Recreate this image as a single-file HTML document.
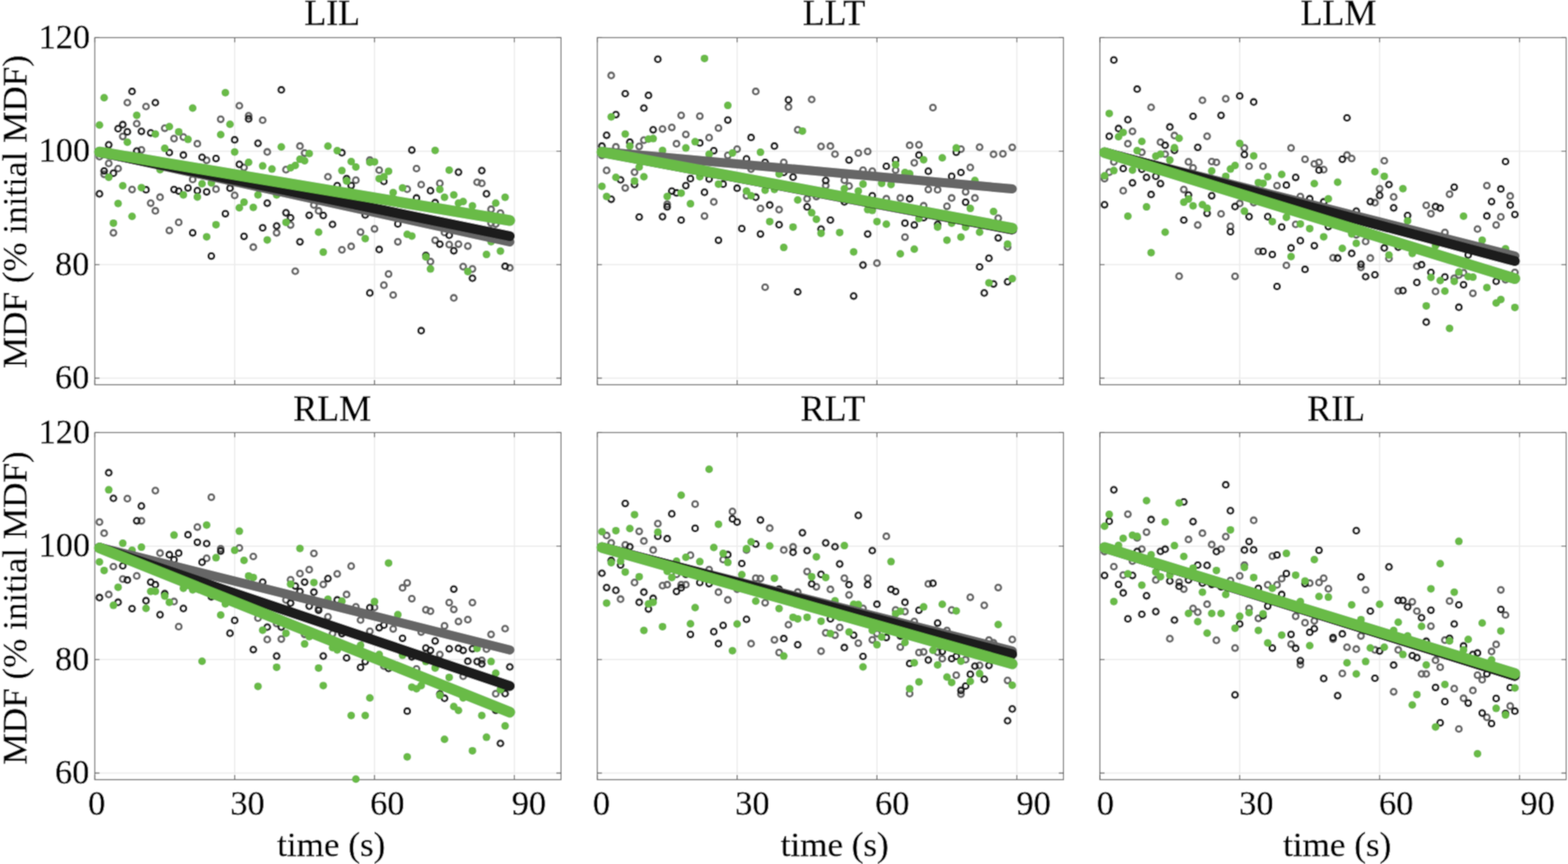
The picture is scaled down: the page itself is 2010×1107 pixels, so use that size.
<!DOCTYPE html><html><head><meta charset="utf-8"><style>html,body{margin:0;padding:0;background:#fff;}svg{display:block;}text{font-family:"Liberation Serif","Times New Roman",serif;fill:#000;stroke:#000;stroke-width:0.5px;}</style></head><body>
<div><svg width="2010" height="1107" viewBox="0 0 2010 1107">
<filter id="bl" x="0" y="0" width="100%" height="100%"><feConvolveMatrix order="3" kernelMatrix="1 3 1 3 9 3 1 3 1" divisor="25" edgeMode="duplicate"/></filter><g filter="url(#bl)"><rect width="2010" height="1107" fill="#fff"/>
<path d="M300.8 48.3V492.90000000000003M480.1 48.3V492.90000000000003M659.4 48.3V492.90000000000003M121.5 484.5H719.2M121.5 339.1H719.2M121.5 193.7H719.2" stroke="#ebebeb" stroke-width="1.5" fill="none"/>
<rect x="121.5" y="48.3" width="597.7" height="444.6" fill="none" stroke="#707070" stroke-width="1.4"/>
<path d="M121.5 492.90000000000003v-6M121.5 48.3v6M300.8 492.90000000000003v-6M300.8 48.3v6M480.1 492.90000000000003v-6M480.1 48.3v6M659.4 492.90000000000003v-6M659.4 48.3v6M121.5 484.5h6M719.2 484.5h-6M121.5 339.1h6M719.2 339.1h-6M121.5 193.7h6M719.2 193.7h-6M121.5 48.3h6M719.2 48.3h-6" stroke="#666" stroke-width="1.3" fill="none"/>
<g><g fill="none" stroke="#666666" stroke-width="2.8"><circle cx="127.5" cy="200.7" r="3.7"/><circle cx="133.5" cy="223.3" r="3.7"/><circle cx="139.4" cy="209.4" r="3.7"/><circle cx="151.4" cy="216.0" r="3.7"/><circle cx="157.4" cy="174.8" r="3.7"/><circle cx="163.3" cy="131.5" r="3.7"/><circle cx="169.3" cy="242.8" r="3.7"/><circle cx="175.3" cy="158.5" r="3.7"/><circle cx="181.3" cy="192.1" r="3.7"/><circle cx="187.2" cy="136.5" r="3.7"/><circle cx="193.2" cy="260.3" r="3.7"/><circle cx="199.2" cy="270.2" r="3.7"/><circle cx="205.2" cy="252.7" r="3.7"/><circle cx="211.2" cy="164.3" r="3.7"/><circle cx="223.1" cy="177.6" r="3.7"/><circle cx="235.1" cy="175.6" r="3.7"/><circle cx="247.0" cy="229.9" r="3.7"/><circle cx="253.0" cy="184.2" r="3.7"/><circle cx="264.9" cy="205.4" r="3.7"/><circle cx="276.9" cy="242.4" r="3.7"/><circle cx="282.9" cy="152.8" r="3.7"/><circle cx="300.8" cy="250.4" r="3.7"/><circle cx="306.8" cy="135.5" r="3.7"/><circle cx="312.8" cy="214.6" r="3.7"/><circle cx="318.7" cy="148.4" r="3.7"/><circle cx="336.7" cy="154.0" r="3.7"/><circle cx="342.6" cy="194.7" r="3.7"/><circle cx="366.6" cy="217.4" r="3.7"/><circle cx="384.5" cy="187.2" r="3.7"/><circle cx="390.5" cy="196.1" r="3.7"/><circle cx="402.4" cy="262.7" r="3.7"/><circle cx="408.4" cy="270.2" r="3.7"/><circle cx="420.4" cy="226.5" r="3.7"/><circle cx="145.4" cy="298.3" r="3.7"/><circle cx="217.1" cy="295.3" r="3.7"/><circle cx="229.1" cy="284.9" r="3.7"/><circle cx="324.7" cy="316.7" r="3.7"/><circle cx="354.6" cy="298.3" r="3.7"/><circle cx="372.5" cy="288.3" r="3.7"/><circle cx="378.5" cy="347.5" r="3.7"/><circle cx="456.2" cy="230.9" r="3.7"/><circle cx="474.1" cy="205.1" r="3.7"/><circle cx="486.1" cy="218.0" r="3.7"/><circle cx="522.0" cy="242.4" r="3.7"/><circle cx="533.9" cy="216.0" r="3.7"/><circle cx="539.9" cy="236.5" r="3.7"/><circle cx="563.8" cy="234.9" r="3.7"/><circle cx="611.6" cy="233.5" r="3.7"/><circle cx="617.6" cy="234.9" r="3.7"/><circle cx="629.5" cy="268.2" r="3.7"/><circle cx="641.5" cy="273.0" r="3.7"/><circle cx="438.3" cy="320.1" r="3.7"/><circle cx="450.2" cy="315.7" r="3.7"/><circle cx="462.2" cy="297.3" r="3.7"/><circle cx="480.1" cy="293.3" r="3.7"/><circle cx="492.1" cy="365.4" r="3.7"/><circle cx="498.1" cy="351.1" r="3.7"/><circle cx="504.0" cy="378.0" r="3.7"/><circle cx="510.0" cy="309.8" r="3.7"/><circle cx="551.8" cy="335.2" r="3.7"/><circle cx="557.8" cy="307.8" r="3.7"/><circle cx="569.8" cy="297.9" r="3.7"/><circle cx="575.8" cy="313.4" r="3.7"/><circle cx="581.7" cy="381.7" r="3.7"/><circle cx="587.7" cy="312.8" r="3.7"/><circle cx="593.7" cy="341.6" r="3.7"/><circle cx="599.7" cy="315.3" r="3.7"/><circle cx="605.6" cy="344.6" r="3.7"/><circle cx="653.5" cy="343.2" r="3.7"/><circle cx="629.5" cy="285.9" r="3.7"/><circle cx="635.5" cy="286.9" r="3.7"/></g><g fill="none" stroke="#1a1a1a" stroke-width="2.8"><circle cx="127.5" cy="248.4" r="3.7"/><circle cx="133.5" cy="219.0" r="3.7"/><circle cx="139.4" cy="185.6" r="3.7"/><circle cx="145.4" cy="221.9" r="3.7"/><circle cx="151.4" cy="164.9" r="3.7"/><circle cx="157.4" cy="159.7" r="3.7"/><circle cx="163.3" cy="168.9" r="3.7"/><circle cx="169.3" cy="117.2" r="3.7"/><circle cx="175.3" cy="193.5" r="3.7"/><circle cx="181.3" cy="168.3" r="3.7"/><circle cx="187.2" cy="243.2" r="3.7"/><circle cx="193.2" cy="170.3" r="3.7"/><circle cx="199.2" cy="131.5" r="3.7"/><circle cx="217.1" cy="195.5" r="3.7"/><circle cx="223.1" cy="242.8" r="3.7"/><circle cx="229.1" cy="244.8" r="3.7"/><circle cx="235.1" cy="198.7" r="3.7"/><circle cx="241.0" cy="240.8" r="3.7"/><circle cx="253.0" cy="244.4" r="3.7"/><circle cx="259.0" cy="201.5" r="3.7"/><circle cx="264.9" cy="245.8" r="3.7"/><circle cx="276.9" cy="203.1" r="3.7"/><circle cx="288.9" cy="273.8" r="3.7"/><circle cx="294.8" cy="241.2" r="3.7"/><circle cx="300.8" cy="179.2" r="3.7"/><circle cx="306.8" cy="210.6" r="3.7"/><circle cx="318.7" cy="152.4" r="3.7"/><circle cx="330.7" cy="183.6" r="3.7"/><circle cx="342.6" cy="260.3" r="3.7"/><circle cx="360.6" cy="115.2" r="3.7"/><circle cx="366.6" cy="272.6" r="3.7"/><circle cx="396.4" cy="275.8" r="3.7"/><circle cx="414.4" cy="276.1" r="3.7"/><circle cx="247.0" cy="298.3" r="3.7"/><circle cx="270.9" cy="328.1" r="3.7"/><circle cx="312.8" cy="302.8" r="3.7"/><circle cx="336.7" cy="291.9" r="3.7"/><circle cx="354.6" cy="289.5" r="3.7"/><circle cx="372.5" cy="279.0" r="3.7"/><circle cx="384.5" cy="309.8" r="3.7"/><circle cx="432.3" cy="237.8" r="3.7"/><circle cx="438.3" cy="195.7" r="3.7"/><circle cx="444.3" cy="228.9" r="3.7"/><circle cx="450.2" cy="237.8" r="3.7"/><circle cx="492.1" cy="232.5" r="3.7"/><circle cx="527.9" cy="192.3" r="3.7"/><circle cx="533.9" cy="253.7" r="3.7"/><circle cx="551.8" cy="244.4" r="3.7"/><circle cx="557.8" cy="259.7" r="3.7"/><circle cx="587.7" cy="220.6" r="3.7"/><circle cx="617.6" cy="218.6" r="3.7"/><circle cx="623.6" cy="248.4" r="3.7"/><circle cx="426.3" cy="287.5" r="3.7"/><circle cx="468.2" cy="275.4" r="3.7"/><circle cx="474.1" cy="375.4" r="3.7"/><circle cx="486.1" cy="319.7" r="3.7"/><circle cx="510.0" cy="286.9" r="3.7"/><circle cx="539.9" cy="423.7" r="3.7"/><circle cx="545.9" cy="327.3" r="3.7"/><circle cx="563.8" cy="312.8" r="3.7"/><circle cx="575.8" cy="301.4" r="3.7"/><circle cx="581.7" cy="321.3" r="3.7"/><circle cx="605.6" cy="356.5" r="3.7"/><circle cx="647.5" cy="341.2" r="3.7"/></g><g fill="#69bb47"><circle cx="127.5" cy="160.3" r="5"/><circle cx="133.5" cy="125.2" r="5"/><circle cx="139.4" cy="227.3" r="5"/><circle cx="151.4" cy="260.7" r="5"/><circle cx="157.4" cy="238.0" r="5"/><circle cx="163.3" cy="182.2" r="5"/><circle cx="169.3" cy="277.3" r="5"/><circle cx="175.3" cy="147.8" r="5"/><circle cx="181.3" cy="240.4" r="5"/><circle cx="199.2" cy="171.7" r="5"/><circle cx="205.2" cy="217.4" r="5"/><circle cx="211.2" cy="190.1" r="5"/><circle cx="217.1" cy="162.3" r="5"/><circle cx="229.1" cy="168.9" r="5"/><circle cx="235.1" cy="249.8" r="5"/><circle cx="241.0" cy="178.6" r="5"/><circle cx="247.0" cy="138.5" r="5"/><circle cx="253.0" cy="252.4" r="5"/><circle cx="259.0" cy="235.5" r="5"/><circle cx="270.9" cy="234.5" r="5"/><circle cx="282.9" cy="172.5" r="5"/><circle cx="288.9" cy="118.8" r="5"/><circle cx="294.8" cy="159.3" r="5"/><circle cx="300.8" cy="194.7" r="5"/><circle cx="306.8" cy="266.3" r="5"/><circle cx="312.8" cy="259.1" r="5"/><circle cx="318.7" cy="208.0" r="5"/><circle cx="324.7" cy="265.7" r="5"/><circle cx="330.7" cy="249.8" r="5"/><circle cx="336.7" cy="212.6" r="5"/><circle cx="348.6" cy="216.6" r="5"/><circle cx="354.6" cy="249.8" r="5"/><circle cx="360.6" cy="188.2" r="5"/><circle cx="372.5" cy="215.0" r="5"/><circle cx="378.5" cy="212.0" r="5"/><circle cx="384.5" cy="204.1" r="5"/><circle cx="390.5" cy="206.0" r="5"/><circle cx="396.4" cy="196.7" r="5"/><circle cx="420.4" cy="187.2" r="5"/><circle cx="145.4" cy="285.9" r="5"/><circle cx="264.9" cy="303.4" r="5"/><circle cx="276.9" cy="287.9" r="5"/><circle cx="342.6" cy="307.4" r="5"/><circle cx="366.6" cy="284.9" r="5"/><circle cx="408.4" cy="297.5" r="5"/><circle cx="414.4" cy="323.1" r="5"/><circle cx="432.3" cy="193.1" r="5"/><circle cx="438.3" cy="218.6" r="5"/><circle cx="444.3" cy="231.9" r="5"/><circle cx="450.2" cy="207.0" r="5"/><circle cx="456.2" cy="214.0" r="5"/><circle cx="474.1" cy="208.0" r="5"/><circle cx="480.1" cy="207.4" r="5"/><circle cx="486.1" cy="228.9" r="5"/><circle cx="492.1" cy="226.5" r="5"/><circle cx="498.1" cy="219.4" r="5"/><circle cx="504.0" cy="246.8" r="5"/><circle cx="516.0" cy="240.8" r="5"/><circle cx="557.8" cy="192.7" r="5"/><circle cx="563.8" cy="242.8" r="5"/><circle cx="569.8" cy="252.7" r="5"/><circle cx="575.8" cy="218.0" r="5"/><circle cx="581.7" cy="249.8" r="5"/><circle cx="587.7" cy="260.3" r="5"/><circle cx="593.7" cy="258.3" r="5"/><circle cx="605.6" cy="263.7" r="5"/><circle cx="635.5" cy="260.3" r="5"/><circle cx="647.5" cy="252.7" r="5"/><circle cx="468.2" cy="305.8" r="5"/><circle cx="522.0" cy="300.2" r="5"/><circle cx="527.9" cy="302.4" r="5"/><circle cx="545.9" cy="329.3" r="5"/><circle cx="551.8" cy="344.6" r="5"/><circle cx="599.7" cy="347.9" r="5"/><circle cx="623.6" cy="326.1" r="5"/><circle cx="641.5" cy="321.7" r="5"/><circle cx="629.5" cy="309.8" r="5"/></g><line x1="127.5" y1="195.0" x2="653.5" y2="310.0" stroke="#666666" stroke-width="12" stroke-linecap="round"/><line x1="127.5" y1="194.9" x2="653.5" y2="302.5" stroke="#1a1a1a" stroke-width="13" stroke-linecap="round"/><line x1="127.5" y1="194.7" x2="653.5" y2="282.5" stroke="#69bb47" stroke-width="14" stroke-linecap="round"/></g>
<text x="425.9" y="32.3" font-size="46" text-anchor="middle">LIL</text>
<text x="114.4" y="498.2" font-size="44" text-anchor="end">60</text>
<text x="114.4" y="352.8" font-size="44" text-anchor="end">80</text>
<text x="115.6" y="207.4" font-size="44" text-anchor="end">100</text>
<text x="115.6" y="62.0" font-size="44" text-anchor="end">120</text>
<text transform="translate(33.5 271.1) rotate(-90)" font-size="45" text-anchor="middle">MDF (% initial MDF)</text>
<path d="M944.9 48.3V492.90000000000003M1124.2 48.3V492.90000000000003M1303.5 48.3V492.90000000000003M765.6 484.5H1363.3000000000002M765.6 339.1H1363.3000000000002M765.6 193.7H1363.3000000000002" stroke="#ebebeb" stroke-width="1.5" fill="none"/>
<rect x="765.6" y="48.3" width="597.7" height="444.6" fill="none" stroke="#707070" stroke-width="1.4"/>
<path d="M765.6 492.90000000000003v-6M765.6 48.3v6M944.9 492.90000000000003v-6M944.9 48.3v6M1124.2 492.90000000000003v-6M1124.2 48.3v6M1303.5 492.90000000000003v-6M1303.5 48.3v6M765.6 484.5h6M1363.3000000000002 484.5h-6M765.6 339.1h6M1363.3000000000002 339.1h-6M765.6 193.7h6M1363.3000000000002 193.7h-6M765.6 48.3h6M1363.3000000000002 48.3h-6" stroke="#666" stroke-width="1.3" fill="none"/>
<g><g fill="none" stroke="#666666" stroke-width="2.8"><circle cx="771.6" cy="199.1" r="3.7"/><circle cx="777.6" cy="218.4" r="3.7"/><circle cx="783.5" cy="96.7" r="3.7"/><circle cx="789.5" cy="188.2" r="3.7"/><circle cx="801.5" cy="240.8" r="3.7"/><circle cx="813.4" cy="220.6" r="3.7"/><circle cx="819.4" cy="187.6" r="3.7"/><circle cx="825.4" cy="179.6" r="3.7"/><circle cx="849.3" cy="165.3" r="3.7"/><circle cx="855.3" cy="261.7" r="3.7"/><circle cx="861.2" cy="163.3" r="3.7"/><circle cx="867.2" cy="184.2" r="3.7"/><circle cx="873.2" cy="147.8" r="3.7"/><circle cx="879.2" cy="172.3" r="3.7"/><circle cx="897.1" cy="148.8" r="3.7"/><circle cx="903.1" cy="276.8" r="3.7"/><circle cx="909.0" cy="176.4" r="3.7"/><circle cx="915.0" cy="258.7" r="3.7"/><circle cx="921.0" cy="164.1" r="3.7"/><circle cx="933.0" cy="199.1" r="3.7"/><circle cx="944.9" cy="191.1" r="3.7"/><circle cx="956.9" cy="250.8" r="3.7"/><circle cx="962.8" cy="216.6" r="3.7"/><circle cx="968.8" cy="117.2" r="3.7"/><circle cx="974.8" cy="267.1" r="3.7"/><circle cx="998.7" cy="268.6" r="3.7"/><circle cx="1004.7" cy="208.0" r="3.7"/><circle cx="1010.7" cy="137.1" r="3.7"/><circle cx="1022.6" cy="166.3" r="3.7"/><circle cx="1034.6" cy="254.7" r="3.7"/><circle cx="1040.5" cy="127.5" r="3.7"/><circle cx="1046.5" cy="251.8" r="3.7"/><circle cx="1052.5" cy="187.6" r="3.7"/><circle cx="1058.5" cy="237.8" r="3.7"/><circle cx="980.8" cy="368.0" r="3.7"/><circle cx="1064.5" cy="187.2" r="3.7"/><circle cx="1070.4" cy="197.5" r="3.7"/><circle cx="1082.4" cy="230.9" r="3.7"/><circle cx="1088.4" cy="238.4" r="3.7"/><circle cx="1100.3" cy="196.1" r="3.7"/><circle cx="1106.3" cy="218.0" r="3.7"/><circle cx="1112.3" cy="194.1" r="3.7"/><circle cx="1118.2" cy="219.4" r="3.7"/><circle cx="1136.2" cy="254.7" r="3.7"/><circle cx="1148.1" cy="218.0" r="3.7"/><circle cx="1154.1" cy="253.7" r="3.7"/><circle cx="1166.1" cy="186.2" r="3.7"/><circle cx="1172.0" cy="208.6" r="3.7"/><circle cx="1178.0" cy="185.6" r="3.7"/><circle cx="1184.0" cy="263.7" r="3.7"/><circle cx="1190.0" cy="242.8" r="3.7"/><circle cx="1195.9" cy="137.9" r="3.7"/><circle cx="1201.9" cy="243.2" r="3.7"/><circle cx="1213.9" cy="264.3" r="3.7"/><circle cx="1219.9" cy="253.7" r="3.7"/><circle cx="1231.8" cy="191.1" r="3.7"/><circle cx="1237.8" cy="245.8" r="3.7"/><circle cx="1243.8" cy="214.6" r="3.7"/><circle cx="1249.7" cy="253.7" r="3.7"/><circle cx="1255.7" cy="188.6" r="3.7"/><circle cx="1273.6" cy="197.7" r="3.7"/><circle cx="1285.6" cy="197.1" r="3.7"/><circle cx="1297.6" cy="188.8" r="3.7"/><circle cx="1124.2" cy="337.2" r="3.7"/><circle cx="1160.1" cy="303.8" r="3.7"/><circle cx="1279.6" cy="279.6" r="3.7"/><circle cx="1291.6" cy="316.7" r="3.7"/></g><g fill="none" stroke="#1a1a1a" stroke-width="2.8"><circle cx="771.6" cy="187.2" r="3.7"/><circle cx="777.6" cy="173.3" r="3.7"/><circle cx="783.5" cy="255.3" r="3.7"/><circle cx="789.5" cy="146.8" r="3.7"/><circle cx="795.5" cy="230.5" r="3.7"/><circle cx="801.5" cy="120.0" r="3.7"/><circle cx="807.4" cy="182.2" r="3.7"/><circle cx="813.4" cy="236.5" r="3.7"/><circle cx="819.4" cy="278.1" r="3.7"/><circle cx="825.4" cy="138.5" r="3.7"/><circle cx="831.3" cy="122.2" r="3.7"/><circle cx="837.3" cy="166.3" r="3.7"/><circle cx="843.3" cy="75.9" r="3.7"/><circle cx="849.3" cy="277.6" r="3.7"/><circle cx="855.3" cy="265.1" r="3.7"/><circle cx="861.2" cy="244.8" r="3.7"/><circle cx="867.2" cy="247.2" r="3.7"/><circle cx="879.2" cy="237.8" r="3.7"/><circle cx="885.1" cy="228.9" r="3.7"/><circle cx="897.1" cy="183.2" r="3.7"/><circle cx="903.1" cy="246.4" r="3.7"/><circle cx="909.0" cy="229.5" r="3.7"/><circle cx="915.0" cy="193.1" r="3.7"/><circle cx="927.0" cy="235.9" r="3.7"/><circle cx="933.0" cy="153.8" r="3.7"/><circle cx="944.9" cy="241.2" r="3.7"/><circle cx="956.9" cy="203.5" r="3.7"/><circle cx="962.8" cy="176.2" r="3.7"/><circle cx="968.8" cy="252.7" r="3.7"/><circle cx="980.8" cy="208.0" r="3.7"/><circle cx="986.7" cy="262.7" r="3.7"/><circle cx="992.7" cy="187.2" r="3.7"/><circle cx="1004.7" cy="221.0" r="3.7"/><circle cx="1010.7" cy="127.9" r="3.7"/><circle cx="1016.6" cy="226.9" r="3.7"/><circle cx="1034.6" cy="265.1" r="3.7"/><circle cx="1058.5" cy="231.3" r="3.7"/><circle cx="873.2" cy="282.0" r="3.7"/><circle cx="921.0" cy="307.8" r="3.7"/><circle cx="950.9" cy="292.9" r="3.7"/><circle cx="974.8" cy="299.8" r="3.7"/><circle cx="998.7" cy="287.9" r="3.7"/><circle cx="1022.6" cy="374.0" r="3.7"/><circle cx="1052.5" cy="293.5" r="3.7"/><circle cx="1082.4" cy="258.7" r="3.7"/><circle cx="1088.4" cy="205.1" r="3.7"/><circle cx="1118.2" cy="250.8" r="3.7"/><circle cx="1136.2" cy="213.0" r="3.7"/><circle cx="1148.1" cy="205.1" r="3.7"/><circle cx="1166.1" cy="254.7" r="3.7"/><circle cx="1178.0" cy="198.7" r="3.7"/><circle cx="1190.0" cy="219.4" r="3.7"/><circle cx="1219.9" cy="225.9" r="3.7"/><circle cx="1225.8" cy="195.1" r="3.7"/><circle cx="1231.8" cy="221.0" r="3.7"/><circle cx="1237.8" cy="259.1" r="3.7"/><circle cx="1064.5" cy="282.0" r="3.7"/><circle cx="1094.3" cy="379.3" r="3.7"/><circle cx="1106.3" cy="339.6" r="3.7"/><circle cx="1112.3" cy="299.8" r="3.7"/><circle cx="1160.1" cy="285.9" r="3.7"/><circle cx="1172.0" cy="288.3" r="3.7"/><circle cx="1184.0" cy="279.0" r="3.7"/><circle cx="1201.9" cy="287.5" r="3.7"/><circle cx="1255.7" cy="342.0" r="3.7"/><circle cx="1261.7" cy="375.4" r="3.7"/><circle cx="1267.7" cy="330.9" r="3.7"/><circle cx="1273.6" cy="363.8" r="3.7"/><circle cx="1279.6" cy="304.8" r="3.7"/><circle cx="1291.6" cy="361.1" r="3.7"/></g><g fill="#69bb47"><circle cx="771.6" cy="238.8" r="5"/><circle cx="777.6" cy="251.8" r="5"/><circle cx="783.5" cy="149.8" r="5"/><circle cx="789.5" cy="227.3" r="5"/><circle cx="801.5" cy="171.7" r="5"/><circle cx="807.4" cy="187.2" r="5"/><circle cx="813.4" cy="231.9" r="5"/><circle cx="819.4" cy="214.0" r="5"/><circle cx="825.4" cy="226.5" r="5"/><circle cx="831.3" cy="178.2" r="5"/><circle cx="837.3" cy="177.6" r="5"/><circle cx="849.3" cy="192.7" r="5"/><circle cx="855.3" cy="251.8" r="5"/><circle cx="873.2" cy="247.4" r="5"/><circle cx="879.2" cy="189.6" r="5"/><circle cx="885.1" cy="261.1" r="5"/><circle cx="891.1" cy="181.6" r="5"/><circle cx="897.1" cy="226.5" r="5"/><circle cx="903.1" cy="74.9" r="5"/><circle cx="909.0" cy="197.5" r="5"/><circle cx="921.0" cy="235.9" r="5"/><circle cx="933.0" cy="135.1" r="5"/><circle cx="938.9" cy="196.1" r="5"/><circle cx="956.9" cy="244.8" r="5"/><circle cx="962.8" cy="250.8" r="5"/><circle cx="974.8" cy="195.1" r="5"/><circle cx="980.8" cy="243.8" r="5"/><circle cx="992.7" cy="242.8" r="5"/><circle cx="998.7" cy="222.9" r="5"/><circle cx="1022.6" cy="256.3" r="5"/><circle cx="1028.6" cy="167.9" r="5"/><circle cx="1040.5" cy="272.6" r="5"/><circle cx="986.7" cy="283.9" r="5"/><circle cx="1004.7" cy="317.1" r="5"/><circle cx="1016.6" cy="290.9" r="5"/><circle cx="1046.5" cy="281.0" r="5"/><circle cx="1052.5" cy="298.9" r="5"/><circle cx="1082.4" cy="241.8" r="5"/><circle cx="1100.3" cy="244.8" r="5"/><circle cx="1106.3" cy="235.9" r="5"/><circle cx="1112.3" cy="268.6" r="5"/><circle cx="1118.2" cy="269.6" r="5"/><circle cx="1130.2" cy="234.9" r="5"/><circle cx="1142.2" cy="236.5" r="5"/><circle cx="1148.1" cy="211.0" r="5"/><circle cx="1160.1" cy="221.0" r="5"/><circle cx="1166.1" cy="222.5" r="5"/><circle cx="1184.0" cy="204.7" r="5"/><circle cx="1207.9" cy="202.3" r="5"/><circle cx="1225.8" cy="189.6" r="5"/><circle cx="1243.8" cy="267.1" r="5"/><circle cx="1249.7" cy="231.3" r="5"/><circle cx="1273.6" cy="271.0" r="5"/><circle cx="1076.4" cy="297.9" r="5"/><circle cx="1094.3" cy="322.7" r="5"/><circle cx="1124.2" cy="283.9" r="5"/><circle cx="1136.2" cy="287.3" r="5"/><circle cx="1154.1" cy="325.3" r="5"/><circle cx="1172.0" cy="319.3" r="5"/><circle cx="1178.0" cy="280.0" r="5"/><circle cx="1201.9" cy="290.9" r="5"/><circle cx="1213.9" cy="307.8" r="5"/><circle cx="1219.9" cy="285.9" r="5"/><circle cx="1231.8" cy="303.8" r="5"/><circle cx="1237.8" cy="290.9" r="5"/><circle cx="1255.7" cy="297.5" r="5"/><circle cx="1267.7" cy="362.4" r="5"/><circle cx="1291.6" cy="312.8" r="5"/><circle cx="1297.6" cy="357.1" r="5"/></g><line x1="771.6" y1="194.2" x2="1297.6" y2="242.0" stroke="#666666" stroke-width="12" stroke-linecap="round"/><line x1="771.6" y1="194.8" x2="1297.6" y2="294.0" stroke="#1a1a1a" stroke-width="13" stroke-linecap="round"/><line x1="771.6" y1="194.8" x2="1297.6" y2="292.3" stroke="#69bb47" stroke-width="14" stroke-linecap="round"/></g>
<text x="1069.0" y="32.3" font-size="46" text-anchor="middle">LLT</text>
<path d="M1589.2 48.3V492.90000000000003M1768.5 48.3V492.90000000000003M1947.8 48.3V492.90000000000003M1409.9 484.5H2007.6000000000001M1409.9 339.1H2007.6000000000001M1409.9 193.7H2007.6000000000001" stroke="#ebebeb" stroke-width="1.5" fill="none"/>
<rect x="1409.9" y="48.3" width="597.7" height="444.6" fill="none" stroke="#707070" stroke-width="1.4"/>
<path d="M1409.9 492.90000000000003v-6M1409.9 48.3v6M1589.2 492.90000000000003v-6M1589.2 48.3v6M1768.5 492.90000000000003v-6M1768.5 48.3v6M1947.8 492.90000000000003v-6M1947.8 48.3v6M1409.9 484.5h6M2007.6000000000001 484.5h-6M1409.9 339.1h6M2007.6000000000001 339.1h-6M1409.9 193.7h6M2007.6000000000001 193.7h-6M1409.9 48.3h6M2007.6000000000001 48.3h-6" stroke="#666" stroke-width="1.3" fill="none"/>
<g><g fill="none" stroke="#666666" stroke-width="2.8"><circle cx="1415.9" cy="228.9" r="3.7"/><circle cx="1421.9" cy="220.6" r="3.7"/><circle cx="1427.8" cy="207.4" r="3.7"/><circle cx="1439.8" cy="244.4" r="3.7"/><circle cx="1445.8" cy="184.2" r="3.7"/><circle cx="1451.7" cy="168.3" r="3.7"/><circle cx="1463.7" cy="195.1" r="3.7"/><circle cx="1475.6" cy="137.5" r="3.7"/><circle cx="1487.6" cy="182.2" r="3.7"/><circle cx="1493.6" cy="197.5" r="3.7"/><circle cx="1505.5" cy="173.7" r="3.7"/><circle cx="1517.5" cy="242.8" r="3.7"/><circle cx="1523.5" cy="207.4" r="3.7"/><circle cx="1529.4" cy="215.0" r="3.7"/><circle cx="1541.4" cy="128.5" r="3.7"/><circle cx="1547.4" cy="174.6" r="3.7"/><circle cx="1553.3" cy="207.0" r="3.7"/><circle cx="1559.3" cy="208.0" r="3.7"/><circle cx="1565.3" cy="274.0" r="3.7"/><circle cx="1571.3" cy="126.6" r="3.7"/><circle cx="1589.2" cy="260.7" r="3.7"/><circle cx="1595.2" cy="189.6" r="3.7"/><circle cx="1601.2" cy="213.0" r="3.7"/><circle cx="1607.1" cy="259.7" r="3.7"/><circle cx="1619.1" cy="213.0" r="3.7"/><circle cx="1637.0" cy="237.8" r="3.7"/><circle cx="1655.0" cy="189.6" r="3.7"/><circle cx="1666.9" cy="251.8" r="3.7"/><circle cx="1672.9" cy="204.1" r="3.7"/><circle cx="1684.8" cy="210.0" r="3.7"/><circle cx="1690.8" cy="208.0" r="3.7"/><circle cx="1696.8" cy="217.4" r="3.7"/><circle cx="1511.5" cy="353.9" r="3.7"/><circle cx="1535.4" cy="288.3" r="3.7"/><circle cx="1577.3" cy="289.9" r="3.7"/><circle cx="1583.2" cy="354.1" r="3.7"/><circle cx="1613.1" cy="322.1" r="3.7"/><circle cx="1649.0" cy="340.0" r="3.7"/><circle cx="1660.9" cy="287.5" r="3.7"/><circle cx="1708.8" cy="330.4" r="3.7"/><circle cx="1726.7" cy="198.7" r="3.7"/><circle cx="1732.7" cy="203.1" r="3.7"/><circle cx="1762.5" cy="259.7" r="3.7"/><circle cx="1768.5" cy="241.8" r="3.7"/><circle cx="1774.5" cy="206.0" r="3.7"/><circle cx="1786.5" cy="252.4" r="3.7"/><circle cx="1828.3" cy="263.1" r="3.7"/><circle cx="1834.3" cy="273.8" r="3.7"/><circle cx="1858.2" cy="248.8" r="3.7"/><circle cx="1906.0" cy="237.8" r="3.7"/><circle cx="1923.9" cy="277.9" r="3.7"/><circle cx="1935.9" cy="251.2" r="3.7"/><circle cx="1738.6" cy="300.8" r="3.7"/><circle cx="1744.6" cy="342.6" r="3.7"/><circle cx="1750.6" cy="309.4" r="3.7"/><circle cx="1756.6" cy="330.7" r="3.7"/><circle cx="1780.5" cy="331.2" r="3.7"/><circle cx="1792.4" cy="372.8" r="3.7"/><circle cx="1816.3" cy="341.2" r="3.7"/><circle cx="1840.2" cy="373.4" r="3.7"/><circle cx="1852.2" cy="297.9" r="3.7"/><circle cx="1864.2" cy="356.5" r="3.7"/><circle cx="1870.1" cy="352.5" r="3.7"/><circle cx="1876.1" cy="349.5" r="3.7"/><circle cx="1888.1" cy="375.8" r="3.7"/><circle cx="1894.0" cy="293.5" r="3.7"/><circle cx="1917.9" cy="288.3" r="3.7"/><circle cx="1929.9" cy="358.5" r="3.7"/><circle cx="1941.9" cy="349.1" r="3.7"/></g><g fill="none" stroke="#1a1a1a" stroke-width="2.8"><circle cx="1415.9" cy="262.3" r="3.7"/><circle cx="1421.9" cy="174.6" r="3.7"/><circle cx="1427.8" cy="76.9" r="3.7"/><circle cx="1433.8" cy="164.7" r="3.7"/><circle cx="1439.8" cy="216.0" r="3.7"/><circle cx="1445.8" cy="153.4" r="3.7"/><circle cx="1451.7" cy="234.3" r="3.7"/><circle cx="1457.7" cy="114.2" r="3.7"/><circle cx="1463.7" cy="217.0" r="3.7"/><circle cx="1469.7" cy="227.3" r="3.7"/><circle cx="1475.6" cy="249.2" r="3.7"/><circle cx="1481.6" cy="225.9" r="3.7"/><circle cx="1487.6" cy="235.3" r="3.7"/><circle cx="1493.6" cy="186.2" r="3.7"/><circle cx="1499.6" cy="162.7" r="3.7"/><circle cx="1505.5" cy="192.7" r="3.7"/><circle cx="1523.5" cy="249.8" r="3.7"/><circle cx="1529.4" cy="149.0" r="3.7"/><circle cx="1535.4" cy="188.8" r="3.7"/><circle cx="1547.4" cy="273.3" r="3.7"/><circle cx="1553.3" cy="250.8" r="3.7"/><circle cx="1565.3" cy="147.8" r="3.7"/><circle cx="1583.2" cy="264.7" r="3.7"/><circle cx="1589.2" cy="123.0" r="3.7"/><circle cx="1595.2" cy="198.1" r="3.7"/><circle cx="1607.1" cy="130.7" r="3.7"/><circle cx="1625.1" cy="277.6" r="3.7"/><circle cx="1649.0" cy="237.2" r="3.7"/><circle cx="1660.9" cy="227.3" r="3.7"/><circle cx="1678.9" cy="254.7" r="3.7"/><circle cx="1690.8" cy="218.0" r="3.7"/><circle cx="1696.8" cy="258.7" r="3.7"/><circle cx="1517.5" cy="282.0" r="3.7"/><circle cx="1577.3" cy="296.9" r="3.7"/><circle cx="1601.2" cy="277.6" r="3.7"/><circle cx="1619.1" cy="322.1" r="3.7"/><circle cx="1631.0" cy="326.1" r="3.7"/><circle cx="1637.0" cy="367.0" r="3.7"/><circle cx="1643.0" cy="290.9" r="3.7"/><circle cx="1655.0" cy="317.7" r="3.7"/><circle cx="1666.9" cy="308.4" r="3.7"/><circle cx="1672.9" cy="345.2" r="3.7"/><circle cx="1684.8" cy="314.8" r="3.7"/><circle cx="1702.8" cy="290.3" r="3.7"/><circle cx="1720.7" cy="204.1" r="3.7"/><circle cx="1726.7" cy="151.0" r="3.7"/><circle cx="1738.6" cy="270.6" r="3.7"/><circle cx="1756.6" cy="258.3" r="3.7"/><circle cx="1768.5" cy="250.4" r="3.7"/><circle cx="1780.5" cy="236.5" r="3.7"/><circle cx="1786.5" cy="266.3" r="3.7"/><circle cx="1804.4" cy="276.1" r="3.7"/><circle cx="1840.2" cy="264.7" r="3.7"/><circle cx="1846.2" cy="266.7" r="3.7"/><circle cx="1864.2" cy="239.8" r="3.7"/><circle cx="1906.0" cy="276.7" r="3.7"/><circle cx="1912.0" cy="258.3" r="3.7"/><circle cx="1923.9" cy="242.2" r="3.7"/><circle cx="1929.9" cy="207.0" r="3.7"/><circle cx="1935.9" cy="262.7" r="3.7"/><circle cx="1941.9" cy="274.8" r="3.7"/><circle cx="1714.7" cy="330.7" r="3.7"/><circle cx="1732.7" cy="324.7" r="3.7"/><circle cx="1744.6" cy="338.6" r="3.7"/><circle cx="1750.6" cy="354.5" r="3.7"/><circle cx="1762.5" cy="352.1" r="3.7"/><circle cx="1774.5" cy="317.7" r="3.7"/><circle cx="1792.4" cy="316.7" r="3.7"/><circle cx="1798.4" cy="372.4" r="3.7"/><circle cx="1816.3" cy="361.9" r="3.7"/><circle cx="1822.3" cy="339.2" r="3.7"/><circle cx="1828.3" cy="412.7" r="3.7"/><circle cx="1834.3" cy="349.1" r="3.7"/><circle cx="1852.2" cy="354.9" r="3.7"/><circle cx="1870.1" cy="393.7" r="3.7"/><circle cx="1876.1" cy="364.8" r="3.7"/><circle cx="1882.1" cy="326.7" r="3.7"/><circle cx="1917.9" cy="360.5" r="3.7"/></g><g fill="#69bb47"><circle cx="1415.9" cy="225.3" r="5"/><circle cx="1421.9" cy="145.4" r="5"/><circle cx="1427.8" cy="218.6" r="5"/><circle cx="1433.8" cy="175.2" r="5"/><circle cx="1439.8" cy="169.7" r="5"/><circle cx="1445.8" cy="277.0" r="5"/><circle cx="1451.7" cy="218.0" r="5"/><circle cx="1457.7" cy="193.1" r="5"/><circle cx="1463.7" cy="181.2" r="5"/><circle cx="1469.7" cy="265.1" r="5"/><circle cx="1481.6" cy="200.1" r="5"/><circle cx="1487.6" cy="197.5" r="5"/><circle cx="1499.6" cy="205.1" r="5"/><circle cx="1505.5" cy="189.2" r="5"/><circle cx="1511.5" cy="177.2" r="5"/><circle cx="1517.5" cy="259.1" r="5"/><circle cx="1523.5" cy="255.1" r="5"/><circle cx="1529.4" cy="263.7" r="5"/><circle cx="1541.4" cy="262.3" r="5"/><circle cx="1547.4" cy="266.7" r="5"/><circle cx="1553.3" cy="219.0" r="5"/><circle cx="1571.3" cy="225.9" r="5"/><circle cx="1577.3" cy="216.6" r="5"/><circle cx="1583.2" cy="212.0" r="5"/><circle cx="1589.2" cy="183.8" r="5"/><circle cx="1595.2" cy="270.6" r="5"/><circle cx="1607.1" cy="199.7" r="5"/><circle cx="1613.1" cy="233.9" r="5"/><circle cx="1619.1" cy="234.9" r="5"/><circle cx="1625.1" cy="226.5" r="5"/><circle cx="1643.0" cy="223.5" r="5"/><circle cx="1684.8" cy="235.3" r="5"/><circle cx="1702.8" cy="254.7" r="5"/><circle cx="1475.6" cy="323.7" r="5"/><circle cx="1493.6" cy="297.5" r="5"/><circle cx="1631.0" cy="283.9" r="5"/><circle cx="1649.0" cy="278.4" r="5"/><circle cx="1655.0" cy="328.7" r="5"/><circle cx="1666.9" cy="286.9" r="5"/><circle cx="1678.9" cy="292.9" r="5"/><circle cx="1696.8" cy="303.4" r="5"/><circle cx="1714.7" cy="233.5" r="5"/><circle cx="1762.5" cy="220.0" r="5"/><circle cx="1774.5" cy="225.9" r="5"/><circle cx="1798.4" cy="241.8" r="5"/><circle cx="1876.1" cy="277.0" r="5"/><circle cx="1720.7" cy="318.3" r="5"/><circle cx="1732.7" cy="299.8" r="5"/><circle cx="1738.6" cy="311.8" r="5"/><circle cx="1780.5" cy="326.7" r="5"/><circle cx="1804.4" cy="283.0" r="5"/><circle cx="1810.4" cy="324.7" r="5"/><circle cx="1828.3" cy="391.9" r="5"/><circle cx="1834.3" cy="355.5" r="5"/><circle cx="1840.2" cy="314.8" r="5"/><circle cx="1846.2" cy="359.5" r="5"/><circle cx="1852.2" cy="373.0" r="5"/><circle cx="1858.2" cy="420.7" r="5"/><circle cx="1864.2" cy="360.5" r="5"/><circle cx="1870.1" cy="348.5" r="5"/><circle cx="1882.1" cy="354.5" r="5"/><circle cx="1888.1" cy="355.1" r="5"/><circle cx="1900.0" cy="307.8" r="5"/><circle cx="1906.0" cy="368.4" r="5"/><circle cx="1917.9" cy="388.3" r="5"/><circle cx="1923.9" cy="383.7" r="5"/><circle cx="1929.9" cy="318.7" r="5"/><circle cx="1941.9" cy="393.9" r="5"/></g><line x1="1415.9" y1="195.2" x2="1941.9" y2="328.0" stroke="#666666" stroke-width="12" stroke-linecap="round"/><line x1="1415.9" y1="195.3" x2="1941.9" y2="334.5" stroke="#1a1a1a" stroke-width="13" stroke-linecap="round"/><line x1="1415.9" y1="195.5" x2="1941.9" y2="357.0" stroke="#69bb47" stroke-width="14" stroke-linecap="round"/></g>
<text x="1715.8" y="32.3" font-size="46" text-anchor="middle">LLM</text>
<path d="M300.8 554.3V998.9M480.1 554.3V998.9M659.4 554.3V998.9M121.5 990.5H719.2M121.5 845.1H719.2M121.5 699.7H719.2" stroke="#ebebeb" stroke-width="1.5" fill="none"/>
<rect x="121.5" y="554.3" width="597.7" height="444.6" fill="none" stroke="#707070" stroke-width="1.4"/>
<path d="M121.5 998.9v-6M121.5 554.3v6M300.8 998.9v-6M300.8 554.3v6M480.1 998.9v-6M480.1 554.3v6M659.4 998.9v-6M659.4 554.3v6M121.5 990.5h6M719.2 990.5h-6M121.5 845.1h6M719.2 845.1h-6M121.5 699.7h6M719.2 699.7h-6M121.5 554.3h6M719.2 554.3h-6" stroke="#666" stroke-width="1.3" fill="none"/>
<g><g fill="none" stroke="#666666" stroke-width="2.8"><circle cx="127.5" cy="668.9" r="3.7"/><circle cx="133.5" cy="683.2" r="3.7"/><circle cx="139.4" cy="761.7" r="3.7"/><circle cx="145.4" cy="726.0" r="3.7"/><circle cx="157.4" cy="741.9" r="3.7"/><circle cx="163.3" cy="638.9" r="3.7"/><circle cx="175.3" cy="737.9" r="3.7"/><circle cx="181.3" cy="667.3" r="3.7"/><circle cx="199.2" cy="628.6" r="3.7"/><circle cx="205.2" cy="708.7" r="3.7"/><circle cx="223.1" cy="770.7" r="3.7"/><circle cx="253.0" cy="675.3" r="3.7"/><circle cx="264.9" cy="715.4" r="3.7"/><circle cx="270.9" cy="637.1" r="3.7"/><circle cx="282.9" cy="703.1" r="3.7"/><circle cx="306.8" cy="702.1" r="3.7"/><circle cx="324.7" cy="713.0" r="3.7"/><circle cx="366.6" cy="768.7" r="3.7"/><circle cx="372.5" cy="742.8" r="3.7"/><circle cx="384.5" cy="734.9" r="3.7"/><circle cx="396.4" cy="729.9" r="3.7"/><circle cx="402.4" cy="709.1" r="3.7"/><circle cx="408.4" cy="779.6" r="3.7"/><circle cx="414.4" cy="748.8" r="3.7"/><circle cx="229.1" cy="802.9" r="3.7"/><circle cx="330.7" cy="791.9" r="3.7"/><circle cx="342.6" cy="819.4" r="3.7"/><circle cx="354.6" cy="798.9" r="3.7"/><circle cx="360.6" cy="818.8" r="3.7"/><circle cx="390.5" cy="812.8" r="3.7"/><circle cx="432.3" cy="735.3" r="3.7"/><circle cx="444.3" cy="761.7" r="3.7"/><circle cx="450.2" cy="725.4" r="3.7"/><circle cx="456.2" cy="777.6" r="3.7"/><circle cx="480.1" cy="778.2" r="3.7"/><circle cx="516.0" cy="753.2" r="3.7"/><circle cx="522.0" cy="746.8" r="3.7"/><circle cx="527.9" cy="767.1" r="3.7"/><circle cx="545.9" cy="781.3" r="3.7"/><circle cx="551.8" cy="783.1" r="3.7"/><circle cx="575.8" cy="772.1" r="3.7"/><circle cx="581.7" cy="780.8" r="3.7"/><circle cx="605.6" cy="772.1" r="3.7"/><circle cx="420.4" cy="790.3" r="3.7"/><circle cx="426.3" cy="811.8" r="3.7"/><circle cx="462.2" cy="794.5" r="3.7"/><circle cx="474.1" cy="808.8" r="3.7"/><circle cx="492.1" cy="853.5" r="3.7"/><circle cx="504.0" cy="805.8" r="3.7"/><circle cx="533.9" cy="857.1" r="3.7"/><circle cx="539.9" cy="809.8" r="3.7"/><circle cx="563.8" cy="838.6" r="3.7"/><circle cx="569.8" cy="801.9" r="3.7"/><circle cx="587.7" cy="796.3" r="3.7"/><circle cx="593.7" cy="866.5" r="3.7"/><circle cx="599.7" cy="793.9" r="3.7"/><circle cx="617.6" cy="846.0" r="3.7"/><circle cx="623.6" cy="831.7" r="3.7"/><circle cx="629.5" cy="812.8" r="3.7"/><circle cx="635.5" cy="888.9" r="3.7"/><circle cx="647.5" cy="805.5" r="3.7"/></g><g fill="none" stroke="#1a1a1a" stroke-width="2.8"><circle cx="127.5" cy="765.7" r="3.7"/><circle cx="139.4" cy="605.7" r="3.7"/><circle cx="145.4" cy="638.5" r="3.7"/><circle cx="151.4" cy="771.7" r="3.7"/><circle cx="157.4" cy="725.0" r="3.7"/><circle cx="163.3" cy="743.2" r="3.7"/><circle cx="169.3" cy="779.8" r="3.7"/><circle cx="175.3" cy="667.3" r="3.7"/><circle cx="181.3" cy="648.4" r="3.7"/><circle cx="187.2" cy="769.7" r="3.7"/><circle cx="193.2" cy="745.8" r="3.7"/><circle cx="199.2" cy="749.2" r="3.7"/><circle cx="211.2" cy="760.7" r="3.7"/><circle cx="217.1" cy="710.7" r="3.7"/><circle cx="223.1" cy="717.0" r="3.7"/><circle cx="229.1" cy="708.7" r="3.7"/><circle cx="235.1" cy="779.6" r="3.7"/><circle cx="241.0" cy="685.2" r="3.7"/><circle cx="253.0" cy="694.8" r="3.7"/><circle cx="259.0" cy="720.4" r="3.7"/><circle cx="264.9" cy="696.5" r="3.7"/><circle cx="270.9" cy="764.7" r="3.7"/><circle cx="282.9" cy="706.1" r="3.7"/><circle cx="336.7" cy="745.8" r="3.7"/><circle cx="372.5" cy="772.7" r="3.7"/><circle cx="378.5" cy="750.8" r="3.7"/><circle cx="384.5" cy="757.8" r="3.7"/><circle cx="390.5" cy="745.8" r="3.7"/><circle cx="396.4" cy="776.6" r="3.7"/><circle cx="402.4" cy="758.7" r="3.7"/><circle cx="205.2" cy="787.6" r="3.7"/><circle cx="294.8" cy="811.4" r="3.7"/><circle cx="300.8" cy="794.9" r="3.7"/><circle cx="324.7" cy="832.3" r="3.7"/><circle cx="342.6" cy="803.5" r="3.7"/><circle cx="354.6" cy="840.6" r="3.7"/><circle cx="360.6" cy="803.5" r="3.7"/><circle cx="408.4" cy="782.0" r="3.7"/><circle cx="414.4" cy="840.6" r="3.7"/><circle cx="420.4" cy="741.3" r="3.7"/><circle cx="432.3" cy="768.7" r="3.7"/><circle cx="474.1" cy="778.6" r="3.7"/><circle cx="581.7" cy="754.8" r="3.7"/><circle cx="438.3" cy="811.8" r="3.7"/><circle cx="444.3" cy="843.0" r="3.7"/><circle cx="462.2" cy="855.1" r="3.7"/><circle cx="468.2" cy="847.6" r="3.7"/><circle cx="486.1" cy="804.3" r="3.7"/><circle cx="492.1" cy="800.9" r="3.7"/><circle cx="498.1" cy="856.5" r="3.7"/><circle cx="516.0" cy="817.8" r="3.7"/><circle cx="522.0" cy="911.2" r="3.7"/><circle cx="527.9" cy="841.6" r="3.7"/><circle cx="545.9" cy="830.3" r="3.7"/><circle cx="551.8" cy="833.3" r="3.7"/><circle cx="557.8" cy="821.3" r="3.7"/><circle cx="563.8" cy="889.3" r="3.7"/><circle cx="569.8" cy="894.7" r="3.7"/><circle cx="575.8" cy="831.3" r="3.7"/><circle cx="587.7" cy="830.7" r="3.7"/><circle cx="593.7" cy="833.3" r="3.7"/><circle cx="599.7" cy="847.2" r="3.7"/><circle cx="605.6" cy="831.3" r="3.7"/><circle cx="611.6" cy="847.6" r="3.7"/><circle cx="617.6" cy="850.6" r="3.7"/><circle cx="635.5" cy="910.2" r="3.7"/><circle cx="641.5" cy="952.5" r="3.7"/><circle cx="647.5" cy="888.7" r="3.7"/><circle cx="653.5" cy="854.5" r="3.7"/></g><g fill="#69bb47"><circle cx="127.5" cy="720.0" r="5"/><circle cx="133.5" cy="730.9" r="5"/><circle cx="139.4" cy="627.6" r="5"/><circle cx="145.4" cy="775.6" r="5"/><circle cx="151.4" cy="752.4" r="5"/><circle cx="157.4" cy="696.1" r="5"/><circle cx="169.3" cy="705.1" r="5"/><circle cx="181.3" cy="701.1" r="5"/><circle cx="187.2" cy="779.5" r="5"/><circle cx="193.2" cy="757.8" r="5"/><circle cx="199.2" cy="757.8" r="5"/><circle cx="211.2" cy="763.7" r="5"/><circle cx="217.1" cy="771.7" r="5"/><circle cx="223.1" cy="685.6" r="5"/><circle cx="235.1" cy="753.8" r="5"/><circle cx="247.0" cy="755.8" r="5"/><circle cx="264.9" cy="672.7" r="5"/><circle cx="276.9" cy="714.6" r="5"/><circle cx="288.9" cy="773.7" r="5"/><circle cx="300.8" cy="705.1" r="5"/><circle cx="306.8" cy="680.6" r="5"/><circle cx="312.8" cy="718.0" r="5"/><circle cx="318.7" cy="737.9" r="5"/><circle cx="324.7" cy="739.9" r="5"/><circle cx="372.5" cy="748.4" r="5"/><circle cx="384.5" cy="702.7" r="5"/><circle cx="402.4" cy="746.4" r="5"/><circle cx="259.0" cy="847.2" r="5"/><circle cx="282.9" cy="788.0" r="5"/><circle cx="330.7" cy="879.4" r="5"/><circle cx="336.7" cy="807.4" r="5"/><circle cx="354.6" cy="854.9" r="5"/><circle cx="366.6" cy="811.4" r="5"/><circle cx="390.5" cy="825.1" r="5"/><circle cx="396.4" cy="815.8" r="5"/><circle cx="408.4" cy="855.9" r="5"/><circle cx="414.4" cy="878.4" r="5"/><circle cx="420.4" cy="767.7" r="5"/><circle cx="438.3" cy="770.3" r="5"/><circle cx="480.1" cy="770.7" r="5"/><circle cx="498.1" cy="721.4" r="5"/><circle cx="426.3" cy="829.7" r="5"/><circle cx="432.3" cy="832.7" r="5"/><circle cx="450.2" cy="916.7" r="5"/><circle cx="456.2" cy="998.2" r="5"/><circle cx="462.2" cy="826.7" r="5"/><circle cx="468.2" cy="916.7" r="5"/><circle cx="474.1" cy="894.3" r="5"/><circle cx="486.1" cy="838.6" r="5"/><circle cx="510.0" cy="787.6" r="5"/><circle cx="516.0" cy="839.6" r="5"/><circle cx="522.0" cy="969.8" r="5"/><circle cx="527.9" cy="880.4" r="5"/><circle cx="533.9" cy="882.4" r="5"/><circle cx="539.9" cy="878.4" r="5"/><circle cx="545.9" cy="847.6" r="5"/><circle cx="557.8" cy="855.9" r="5"/><circle cx="563.8" cy="890.9" r="5"/><circle cx="569.8" cy="947.3" r="5"/><circle cx="575.8" cy="867.9" r="5"/><circle cx="581.7" cy="905.2" r="5"/><circle cx="587.7" cy="910.2" r="5"/><circle cx="593.7" cy="894.3" r="5"/><circle cx="605.6" cy="961.9" r="5"/><circle cx="611.6" cy="830.7" r="5"/><circle cx="617.6" cy="916.7" r="5"/><circle cx="623.6" cy="944.6" r="5"/><circle cx="629.5" cy="847.6" r="5"/><circle cx="635.5" cy="862.5" r="5"/><circle cx="641.5" cy="883.4" r="5"/><circle cx="647.5" cy="930.1" r="5"/></g><line x1="127.5" y1="701.2" x2="653.5" y2="832.7" stroke="#666666" stroke-width="12" stroke-linecap="round"/><line x1="127.5" y1="701.7" x2="653.5" y2="879.0" stroke="#1a1a1a" stroke-width="13" stroke-linecap="round"/><line x1="127.5" y1="702.1" x2="653.5" y2="912.5" stroke="#69bb47" stroke-width="14" stroke-linecap="round"/></g>
<text x="425.9" y="539.0" font-size="46" text-anchor="middle">RLM</text>
<text x="114.4" y="1004.2" font-size="44" text-anchor="end">60</text>
<text x="114.4" y="858.8" font-size="44" text-anchor="end">80</text>
<text x="115.6" y="713.4" font-size="44" text-anchor="end">100</text>
<text x="115.6" y="568.0" font-size="44" text-anchor="end">120</text>
<text transform="translate(33.5 778.9) rotate(-90)" font-size="45" text-anchor="middle">MDF (% initial MDF)</text>
<text x="124.0" y="1044" font-size="44" text-anchor="middle">0</text>
<text x="317.3" y="1044" font-size="44" text-anchor="middle">30</text>
<text x="496.6" y="1044" font-size="44" text-anchor="middle">60</text>
<text x="677.9" y="1044" font-size="44" text-anchor="middle">90</text>
<text x="424.7" y="1097" font-size="45" text-anchor="middle">time (s)</text>
<path d="M944.9 554.3V998.9M1124.2 554.3V998.9M1303.5 554.3V998.9M765.6 990.5H1363.3000000000002M765.6 845.1H1363.3000000000002M765.6 699.7H1363.3000000000002" stroke="#ebebeb" stroke-width="1.5" fill="none"/>
<rect x="765.6" y="554.3" width="597.7" height="444.6" fill="none" stroke="#707070" stroke-width="1.4"/>
<path d="M765.6 998.9v-6M765.6 554.3v6M944.9 998.9v-6M944.9 554.3v6M1124.2 998.9v-6M1124.2 554.3v6M1303.5 998.9v-6M1303.5 554.3v6M765.6 990.5h6M1363.3000000000002 990.5h-6M765.6 845.1h6M1363.3000000000002 845.1h-6M765.6 699.7h6M1363.3000000000002 699.7h-6M765.6 554.3h6M1363.3000000000002 554.3h-6" stroke="#666" stroke-width="1.3" fill="none"/>
<g><g fill="none" stroke="#666666" stroke-width="2.8"><circle cx="777.6" cy="686.2" r="3.7"/><circle cx="783.5" cy="695.6" r="3.7"/><circle cx="795.5" cy="767.7" r="3.7"/><circle cx="801.5" cy="698.1" r="3.7"/><circle cx="813.4" cy="746.4" r="3.7"/><circle cx="819.4" cy="680.8" r="3.7"/><circle cx="825.4" cy="693.2" r="3.7"/><circle cx="837.3" cy="704.7" r="3.7"/><circle cx="843.3" cy="670.9" r="3.7"/><circle cx="849.3" cy="750.4" r="3.7"/><circle cx="855.3" cy="749.2" r="3.7"/><circle cx="867.2" cy="735.9" r="3.7"/><circle cx="873.2" cy="749.2" r="3.7"/><circle cx="879.2" cy="749.2" r="3.7"/><circle cx="885.1" cy="711.4" r="3.7"/><circle cx="891.1" cy="645.9" r="3.7"/><circle cx="909.0" cy="729.9" r="3.7"/><circle cx="921.0" cy="758.7" r="3.7"/><circle cx="927.0" cy="717.0" r="3.7"/><circle cx="933.0" cy="768.7" r="3.7"/><circle cx="938.9" cy="655.4" r="3.7"/><circle cx="944.9" cy="754.8" r="3.7"/><circle cx="956.9" cy="704.7" r="3.7"/><circle cx="968.8" cy="740.9" r="3.7"/><circle cx="974.8" cy="741.3" r="3.7"/><circle cx="980.8" cy="772.3" r="3.7"/><circle cx="986.7" cy="676.7" r="3.7"/><circle cx="1004.7" cy="704.7" r="3.7"/><circle cx="1016.6" cy="700.7" r="3.7"/><circle cx="1022.6" cy="758.7" r="3.7"/><circle cx="1034.6" cy="732.3" r="3.7"/><circle cx="1046.5" cy="751.8" r="3.7"/><circle cx="1064.5" cy="755.2" r="3.7"/><circle cx="962.8" cy="824.7" r="3.7"/><circle cx="992.7" cy="819.8" r="3.7"/><circle cx="998.7" cy="836.1" r="3.7"/><circle cx="1010.7" cy="800.5" r="3.7"/><circle cx="1052.5" cy="834.3" r="3.7"/><circle cx="1058.5" cy="810.8" r="3.7"/><circle cx="1082.4" cy="740.9" r="3.7"/><circle cx="1088.4" cy="762.3" r="3.7"/><circle cx="1106.3" cy="779.6" r="3.7"/><circle cx="1112.3" cy="740.9" r="3.7"/><circle cx="1136.2" cy="687.2" r="3.7"/><circle cx="1148.1" cy="781.6" r="3.7"/><circle cx="1190.0" cy="748.2" r="3.7"/><circle cx="1219.9" cy="781.6" r="3.7"/><circle cx="1243.8" cy="765.3" r="3.7"/><circle cx="1261.7" cy="775.6" r="3.7"/><circle cx="1279.6" cy="752.8" r="3.7"/><circle cx="1070.4" cy="813.8" r="3.7"/><circle cx="1076.4" cy="803.9" r="3.7"/><circle cx="1100.3" cy="824.1" r="3.7"/><circle cx="1118.2" cy="819.8" r="3.7"/><circle cx="1124.2" cy="811.8" r="3.7"/><circle cx="1154.1" cy="829.1" r="3.7"/><circle cx="1160.1" cy="783.6" r="3.7"/><circle cx="1166.1" cy="888.7" r="3.7"/><circle cx="1172.0" cy="796.3" r="3.7"/><circle cx="1178.0" cy="836.1" r="3.7"/><circle cx="1184.0" cy="835.3" r="3.7"/><circle cx="1201.9" cy="835.7" r="3.7"/><circle cx="1207.9" cy="844.0" r="3.7"/><circle cx="1213.9" cy="807.8" r="3.7"/><circle cx="1225.8" cy="865.1" r="3.7"/><circle cx="1231.8" cy="889.3" r="3.7"/><circle cx="1237.8" cy="845.2" r="3.7"/><circle cx="1255.7" cy="852.6" r="3.7"/><circle cx="1267.7" cy="820.2" r="3.7"/><circle cx="1273.6" cy="823.7" r="3.7"/><circle cx="1291.6" cy="871.8" r="3.7"/><circle cx="1297.6" cy="819.4" r="3.7"/></g><g fill="none" stroke="#1a1a1a" stroke-width="2.8"><circle cx="771.6" cy="734.5" r="3.7"/><circle cx="777.6" cy="752.8" r="3.7"/><circle cx="783.5" cy="718.0" r="3.7"/><circle cx="789.5" cy="756.4" r="3.7"/><circle cx="795.5" cy="724.0" r="3.7"/><circle cx="801.5" cy="645.1" r="3.7"/><circle cx="807.4" cy="700.5" r="3.7"/><circle cx="819.4" cy="771.7" r="3.7"/><circle cx="825.4" cy="758.7" r="3.7"/><circle cx="831.3" cy="780.3" r="3.7"/><circle cx="837.3" cy="766.7" r="3.7"/><circle cx="843.3" cy="687.2" r="3.7"/><circle cx="855.3" cy="690.2" r="3.7"/><circle cx="861.2" cy="658.4" r="3.7"/><circle cx="867.2" cy="757.8" r="3.7"/><circle cx="873.2" cy="753.2" r="3.7"/><circle cx="879.2" cy="735.9" r="3.7"/><circle cx="891.1" cy="676.9" r="3.7"/><circle cx="897.1" cy="746.4" r="3.7"/><circle cx="909.0" cy="747.8" r="3.7"/><circle cx="933.0" cy="710.7" r="3.7"/><circle cx="938.9" cy="664.9" r="3.7"/><circle cx="944.9" cy="668.9" r="3.7"/><circle cx="950.9" cy="722.0" r="3.7"/><circle cx="968.8" cy="697.1" r="3.7"/><circle cx="974.8" cy="666.3" r="3.7"/><circle cx="998.7" cy="754.8" r="3.7"/><circle cx="1016.6" cy="707.7" r="3.7"/><circle cx="1028.6" cy="682.6" r="3.7"/><circle cx="1034.6" cy="705.5" r="3.7"/><circle cx="1040.5" cy="748.2" r="3.7"/><circle cx="1052.5" cy="735.9" r="3.7"/><circle cx="1058.5" cy="695.6" r="3.7"/><circle cx="885.1" cy="812.8" r="3.7"/><circle cx="915.0" cy="809.4" r="3.7"/><circle cx="921.0" cy="824.7" r="3.7"/><circle cx="927.0" cy="801.3" r="3.7"/><circle cx="956.9" cy="793.5" r="3.7"/><circle cx="1004.7" cy="818.2" r="3.7"/><circle cx="1022.6" cy="826.1" r="3.7"/><circle cx="1070.4" cy="700.5" r="3.7"/><circle cx="1076.4" cy="722.6" r="3.7"/><circle cx="1088.4" cy="749.2" r="3.7"/><circle cx="1100.3" cy="660.4" r="3.7"/><circle cx="1112.3" cy="749.2" r="3.7"/><circle cx="1118.2" cy="705.5" r="3.7"/><circle cx="1124.2" cy="774.2" r="3.7"/><circle cx="1142.2" cy="755.2" r="3.7"/><circle cx="1148.1" cy="757.8" r="3.7"/><circle cx="1160.1" cy="771.7" r="3.7"/><circle cx="1178.0" cy="781.8" r="3.7"/><circle cx="1195.9" cy="747.4" r="3.7"/><circle cx="1064.5" cy="792.9" r="3.7"/><circle cx="1082.4" cy="829.7" r="3.7"/><circle cx="1094.3" cy="813.8" r="3.7"/><circle cx="1106.3" cy="841.0" r="3.7"/><circle cx="1136.2" cy="816.8" r="3.7"/><circle cx="1154.1" cy="814.8" r="3.7"/><circle cx="1166.1" cy="850.2" r="3.7"/><circle cx="1190.0" cy="845.6" r="3.7"/><circle cx="1201.9" cy="798.3" r="3.7"/><circle cx="1207.9" cy="834.7" r="3.7"/><circle cx="1219.9" cy="844.0" r="3.7"/><circle cx="1225.8" cy="841.0" r="3.7"/><circle cx="1231.8" cy="884.7" r="3.7"/><circle cx="1237.8" cy="879.0" r="3.7"/><circle cx="1243.8" cy="863.9" r="3.7"/><circle cx="1249.7" cy="853.5" r="3.7"/><circle cx="1261.7" cy="870.4" r="3.7"/><circle cx="1267.7" cy="852.6" r="3.7"/><circle cx="1291.6" cy="923.5" r="3.7"/><circle cx="1297.6" cy="908.4" r="3.7"/></g><g fill="#69bb47"><circle cx="771.6" cy="681.2" r="5"/><circle cx="777.6" cy="772.7" r="5"/><circle cx="783.5" cy="721.0" r="5"/><circle cx="789.5" cy="679.9" r="5"/><circle cx="795.5" cy="719.0" r="5"/><circle cx="801.5" cy="732.9" r="5"/><circle cx="807.4" cy="677.3" r="5"/><circle cx="813.4" cy="659.4" r="5"/><circle cx="819.4" cy="738.9" r="5"/><circle cx="831.3" cy="773.7" r="5"/><circle cx="837.3" cy="771.7" r="5"/><circle cx="843.3" cy="681.8" r="5"/><circle cx="855.3" cy="731.9" r="5"/><circle cx="861.2" cy="739.9" r="5"/><circle cx="867.2" cy="719.0" r="5"/><circle cx="873.2" cy="634.5" r="5"/><circle cx="879.2" cy="714.0" r="5"/><circle cx="891.1" cy="778.5" r="5"/><circle cx="897.1" cy="719.6" r="5"/><circle cx="909.0" cy="601.3" r="5"/><circle cx="915.0" cy="701.5" r="5"/><circle cx="921.0" cy="671.7" r="5"/><circle cx="927.0" cy="709.1" r="5"/><circle cx="933.0" cy="720.6" r="5"/><circle cx="950.9" cy="736.3" r="5"/><circle cx="956.9" cy="703.1" r="5"/><circle cx="962.8" cy="694.2" r="5"/><circle cx="968.8" cy="770.3" r="5"/><circle cx="986.7" cy="699.5" r="5"/><circle cx="992.7" cy="740.9" r="5"/><circle cx="998.7" cy="779.8" r="5"/><circle cx="1040.5" cy="738.9" r="5"/><circle cx="1046.5" cy="713.4" r="5"/><circle cx="1058.5" cy="739.9" r="5"/><circle cx="825.4" cy="807.8" r="5"/><circle cx="849.3" cy="802.9" r="5"/><circle cx="885.1" cy="799.3" r="5"/><circle cx="938.9" cy="833.7" r="5"/><circle cx="944.9" cy="799.5" r="5"/><circle cx="1004.7" cy="840.6" r="5"/><circle cx="1016.6" cy="790.9" r="5"/><circle cx="1022.6" cy="792.9" r="5"/><circle cx="1034.6" cy="790.9" r="5"/><circle cx="1052.5" cy="795.9" r="5"/><circle cx="1070.4" cy="769.7" r="5"/><circle cx="1082.4" cy="699.1" r="5"/><circle cx="1094.3" cy="774.2" r="5"/><circle cx="1100.3" cy="774.6" r="5"/><circle cx="1142.2" cy="719.6" r="5"/><circle cx="1154.1" cy="783.3" r="5"/><circle cx="1184.0" cy="777.6" r="5"/><circle cx="1207.9" cy="774.2" r="5"/><circle cx="1225.8" cy="782.8" r="5"/><circle cx="1064.5" cy="811.8" r="5"/><circle cx="1076.4" cy="790.9" r="5"/><circle cx="1088.4" cy="809.8" r="5"/><circle cx="1106.3" cy="854.5" r="5"/><circle cx="1118.2" cy="807.8" r="5"/><circle cx="1124.2" cy="826.1" r="5"/><circle cx="1130.2" cy="816.2" r="5"/><circle cx="1148.1" cy="786.4" r="5"/><circle cx="1160.1" cy="823.3" r="5"/><circle cx="1166.1" cy="882.4" r="5"/><circle cx="1172.0" cy="849.2" r="5"/><circle cx="1178.0" cy="873.8" r="5"/><circle cx="1195.9" cy="833.3" r="5"/><circle cx="1201.9" cy="852.0" r="5"/><circle cx="1213.9" cy="867.5" r="5"/><circle cx="1219.9" cy="874.4" r="5"/><circle cx="1231.8" cy="847.2" r="5"/><circle cx="1243.8" cy="873.0" r="5"/><circle cx="1255.7" cy="863.1" r="5"/><circle cx="1279.6" cy="800.3" r="5"/><circle cx="1297.6" cy="878.0" r="5"/></g><line x1="771.6" y1="701.2" x2="1297.6" y2="834.0" stroke="#666666" stroke-width="12" stroke-linecap="round"/><line x1="771.6" y1="701.3" x2="1297.6" y2="838.3" stroke="#1a1a1a" stroke-width="13" stroke-linecap="round"/><line x1="771.6" y1="701.4" x2="1297.6" y2="850.6" stroke="#69bb47" stroke-width="14" stroke-linecap="round"/></g>
<text x="1067.7" y="539.0" font-size="46" text-anchor="middle">RLT</text>
<text x="771.1" y="1044" font-size="44" text-anchor="middle">0</text>
<text x="964.4" y="1044" font-size="44" text-anchor="middle">30</text>
<text x="1143.7" y="1044" font-size="44" text-anchor="middle">60</text>
<text x="1325.0" y="1044" font-size="44" text-anchor="middle">90</text>
<text x="1070.0" y="1097" font-size="45" text-anchor="middle">time (s)</text>
<path d="M1589.2 554.3V998.9M1768.5 554.3V998.9M1947.8 554.3V998.9M1409.9 990.5H2007.6000000000001M1409.9 845.1H2007.6000000000001M1409.9 699.7H2007.6000000000001" stroke="#ebebeb" stroke-width="1.5" fill="none"/>
<rect x="1409.9" y="554.3" width="597.7" height="444.6" fill="none" stroke="#707070" stroke-width="1.4"/>
<path d="M1409.9 998.9v-6M1409.9 554.3v6M1589.2 998.9v-6M1589.2 554.3v6M1768.5 998.9v-6M1768.5 554.3v6M1947.8 998.9v-6M1947.8 554.3v6M1409.9 990.5h6M2007.6000000000001 990.5h-6M1409.9 845.1h6M2007.6000000000001 845.1h-6M1409.9 699.7h6M2007.6000000000001 699.7h-6M1409.9 554.3h6M2007.6000000000001 554.3h-6" stroke="#666" stroke-width="1.3" fill="none"/>
<g><g fill="none" stroke="#666666" stroke-width="2.8"><circle cx="1415.9" cy="706.7" r="3.7"/><circle cx="1427.8" cy="726.0" r="3.7"/><circle cx="1439.8" cy="736.9" r="3.7"/><circle cx="1445.8" cy="658.8" r="3.7"/><circle cx="1451.7" cy="719.0" r="3.7"/><circle cx="1457.7" cy="689.2" r="3.7"/><circle cx="1463.7" cy="703.5" r="3.7"/><circle cx="1469.7" cy="681.8" r="3.7"/><circle cx="1481.6" cy="743.2" r="3.7"/><circle cx="1511.5" cy="745.8" r="3.7"/><circle cx="1517.5" cy="754.8" r="3.7"/><circle cx="1523.5" cy="691.2" r="3.7"/><circle cx="1529.4" cy="779.6" r="3.7"/><circle cx="1541.4" cy="683.2" r="3.7"/><circle cx="1547.4" cy="774.2" r="3.7"/><circle cx="1553.3" cy="697.7" r="3.7"/><circle cx="1565.3" cy="703.5" r="3.7"/><circle cx="1571.3" cy="687.6" r="3.7"/><circle cx="1577.3" cy="743.8" r="3.7"/><circle cx="1589.2" cy="737.9" r="3.7"/><circle cx="1595.2" cy="724.0" r="3.7"/><circle cx="1601.2" cy="779.6" r="3.7"/><circle cx="1607.1" cy="666.7" r="3.7"/><circle cx="1625.1" cy="749.4" r="3.7"/><circle cx="1631.0" cy="712.6" r="3.7"/><circle cx="1637.0" cy="749.4" r="3.7"/><circle cx="1643.0" cy="741.5" r="3.7"/><circle cx="1678.9" cy="747.2" r="3.7"/><circle cx="1690.8" cy="746.4" r="3.7"/><circle cx="1696.8" cy="740.9" r="3.7"/><circle cx="1702.8" cy="754.4" r="3.7"/><circle cx="1499.6" cy="818.4" r="3.7"/><circle cx="1535.4" cy="784.4" r="3.7"/><circle cx="1559.3" cy="820.4" r="3.7"/><circle cx="1583.2" cy="830.3" r="3.7"/><circle cx="1613.1" cy="792.3" r="3.7"/><circle cx="1655.0" cy="825.3" r="3.7"/><circle cx="1660.9" cy="789.6" r="3.7"/><circle cx="1666.9" cy="851.6" r="3.7"/><circle cx="1672.9" cy="797.9" r="3.7"/><circle cx="1684.8" cy="795.5" r="3.7"/><circle cx="1750.6" cy="755.8" r="3.7"/><circle cx="1810.4" cy="771.1" r="3.7"/><circle cx="1816.3" cy="783.0" r="3.7"/><circle cx="1858.2" cy="770.1" r="3.7"/><circle cx="1923.9" cy="755.8" r="3.7"/><circle cx="1708.8" cy="818.8" r="3.7"/><circle cx="1720.7" cy="862.9" r="3.7"/><circle cx="1726.7" cy="829.3" r="3.7"/><circle cx="1738.6" cy="831.7" r="3.7"/><circle cx="1744.6" cy="814.8" r="3.7"/><circle cx="1762.5" cy="832.7" r="3.7"/><circle cx="1786.5" cy="886.3" r="3.7"/><circle cx="1792.4" cy="832.7" r="3.7"/><circle cx="1822.3" cy="863.5" r="3.7"/><circle cx="1828.3" cy="863.5" r="3.7"/><circle cx="1834.3" cy="802.3" r="3.7"/><circle cx="1840.2" cy="846.0" r="3.7"/><circle cx="1846.2" cy="854.9" r="3.7"/><circle cx="1852.2" cy="820.2" r="3.7"/><circle cx="1864.2" cy="882.4" r="3.7"/><circle cx="1870.1" cy="934.0" r="3.7"/><circle cx="1876.1" cy="894.7" r="3.7"/><circle cx="1888.1" cy="884.7" r="3.7"/><circle cx="1894.0" cy="865.1" r="3.7"/><circle cx="1900.0" cy="871.0" r="3.7"/><circle cx="1906.0" cy="919.1" r="3.7"/><circle cx="1912.0" cy="834.7" r="3.7"/><circle cx="1917.9" cy="825.7" r="3.7"/><circle cx="1929.9" cy="788.0" r="3.7"/><circle cx="1935.9" cy="904.6" r="3.7"/></g><g fill="none" stroke="#1a1a1a" stroke-width="2.8"><circle cx="1415.9" cy="737.3" r="3.7"/><circle cx="1421.9" cy="667.9" r="3.7"/><circle cx="1427.8" cy="627.6" r="3.7"/><circle cx="1433.8" cy="748.8" r="3.7"/><circle cx="1439.8" cy="759.7" r="3.7"/><circle cx="1451.7" cy="737.3" r="3.7"/><circle cx="1457.7" cy="706.7" r="3.7"/><circle cx="1469.7" cy="763.3" r="3.7"/><circle cx="1475.6" cy="665.7" r="3.7"/><circle cx="1481.6" cy="783.6" r="3.7"/><circle cx="1487.6" cy="706.5" r="3.7"/><circle cx="1493.6" cy="703.7" r="3.7"/><circle cx="1499.6" cy="744.4" r="3.7"/><circle cx="1511.5" cy="751.2" r="3.7"/><circle cx="1517.5" cy="643.1" r="3.7"/><circle cx="1523.5" cy="743.2" r="3.7"/><circle cx="1529.4" cy="668.3" r="3.7"/><circle cx="1535.4" cy="724.0" r="3.7"/><circle cx="1541.4" cy="747.2" r="3.7"/><circle cx="1547.4" cy="724.4" r="3.7"/><circle cx="1553.3" cy="748.8" r="3.7"/><circle cx="1559.3" cy="706.7" r="3.7"/><circle cx="1565.3" cy="751.8" r="3.7"/><circle cx="1571.3" cy="621.2" r="3.7"/><circle cx="1577.3" cy="654.4" r="3.7"/><circle cx="1595.2" cy="704.7" r="3.7"/><circle cx="1601.2" cy="693.8" r="3.7"/><circle cx="1607.1" cy="704.5" r="3.7"/><circle cx="1613.1" cy="753.8" r="3.7"/><circle cx="1625.1" cy="776.6" r="3.7"/><circle cx="1637.0" cy="711.1" r="3.7"/><circle cx="1643.0" cy="761.7" r="3.7"/><circle cx="1649.0" cy="734.9" r="3.7"/><circle cx="1672.9" cy="747.8" r="3.7"/><circle cx="1690.8" cy="705.1" r="3.7"/><circle cx="1445.8" cy="792.9" r="3.7"/><circle cx="1463.7" cy="787.0" r="3.7"/><circle cx="1505.5" cy="794.5" r="3.7"/><circle cx="1583.2" cy="890.3" r="3.7"/><circle cx="1589.2" cy="799.5" r="3.7"/><circle cx="1619.1" cy="789.0" r="3.7"/><circle cx="1631.0" cy="830.3" r="3.7"/><circle cx="1655.0" cy="812.8" r="3.7"/><circle cx="1660.9" cy="830.7" r="3.7"/><circle cx="1666.9" cy="846.6" r="3.7"/><circle cx="1678.9" cy="810.2" r="3.7"/><circle cx="1684.8" cy="805.5" r="3.7"/><circle cx="1696.8" cy="869.4" r="3.7"/><circle cx="1738.6" cy="679.9" r="3.7"/><circle cx="1744.6" cy="739.3" r="3.7"/><circle cx="1756.6" cy="783.0" r="3.7"/><circle cx="1780.5" cy="726.4" r="3.7"/><circle cx="1792.4" cy="769.3" r="3.7"/><circle cx="1798.4" cy="769.3" r="3.7"/><circle cx="1804.4" cy="777.6" r="3.7"/><circle cx="1834.3" cy="781.8" r="3.7"/><circle cx="1870.1" cy="775.0" r="3.7"/><circle cx="1923.9" cy="780.8" r="3.7"/><circle cx="1708.8" cy="816.8" r="3.7"/><circle cx="1714.7" cy="891.3" r="3.7"/><circle cx="1720.7" cy="812.2" r="3.7"/><circle cx="1762.5" cy="869.0" r="3.7"/><circle cx="1768.5" cy="834.1" r="3.7"/><circle cx="1786.5" cy="852.2" r="3.7"/><circle cx="1810.4" cy="840.0" r="3.7"/><circle cx="1816.3" cy="842.6" r="3.7"/><circle cx="1822.3" cy="791.5" r="3.7"/><circle cx="1828.3" cy="821.7" r="3.7"/><circle cx="1840.2" cy="880.8" r="3.7"/><circle cx="1846.2" cy="926.1" r="3.7"/><circle cx="1852.2" cy="898.9" r="3.7"/><circle cx="1858.2" cy="817.8" r="3.7"/><circle cx="1864.2" cy="799.5" r="3.7"/><circle cx="1876.1" cy="827.7" r="3.7"/><circle cx="1882.1" cy="900.8" r="3.7"/><circle cx="1888.1" cy="838.6" r="3.7"/><circle cx="1894.0" cy="836.7" r="3.7"/><circle cx="1900.0" cy="913.6" r="3.7"/><circle cx="1906.0" cy="863.5" r="3.7"/><circle cx="1912.0" cy="927.1" r="3.7"/><circle cx="1917.9" cy="894.9" r="3.7"/><circle cx="1929.9" cy="914.2" r="3.7"/><circle cx="1935.9" cy="881.0" r="3.7"/><circle cx="1941.9" cy="911.2" r="3.7"/></g><g fill="#69bb47"><circle cx="1415.9" cy="674.3" r="5"/><circle cx="1421.9" cy="659.0" r="5"/><circle cx="1427.8" cy="770.7" r="5"/><circle cx="1433.8" cy="698.7" r="5"/><circle cx="1439.8" cy="689.8" r="5"/><circle cx="1445.8" cy="735.3" r="5"/><circle cx="1451.7" cy="685.8" r="5"/><circle cx="1457.7" cy="687.2" r="5"/><circle cx="1463.7" cy="749.8" r="5"/><circle cx="1469.7" cy="641.5" r="5"/><circle cx="1475.6" cy="710.7" r="5"/><circle cx="1481.6" cy="732.9" r="5"/><circle cx="1487.6" cy="738.9" r="5"/><circle cx="1493.6" cy="668.7" r="5"/><circle cx="1499.6" cy="736.9" r="5"/><circle cx="1505.5" cy="699.1" r="5"/><circle cx="1511.5" cy="644.5" r="5"/><circle cx="1517.5" cy="713.0" r="5"/><circle cx="1529.4" cy="727.9" r="5"/><circle cx="1541.4" cy="758.7" r="5"/><circle cx="1559.3" cy="730.9" r="5"/><circle cx="1571.3" cy="761.7" r="5"/><circle cx="1577.3" cy="678.9" r="5"/><circle cx="1595.2" cy="727.0" r="5"/><circle cx="1607.1" cy="739.9" r="5"/><circle cx="1631.0" cy="753.8" r="5"/><circle cx="1649.0" cy="709.1" r="5"/><circle cx="1660.9" cy="736.9" r="5"/><circle cx="1666.9" cy="770.7" r="5"/><circle cx="1672.9" cy="744.4" r="5"/><circle cx="1684.8" cy="717.0" r="5"/><circle cx="1690.8" cy="764.3" r="5"/><circle cx="1702.8" cy="765.1" r="5"/><circle cx="1523.5" cy="786.0" r="5"/><circle cx="1535.4" cy="796.5" r="5"/><circle cx="1547.4" cy="811.2" r="5"/><circle cx="1553.3" cy="786.0" r="5"/><circle cx="1565.3" cy="786.0" r="5"/><circle cx="1583.2" cy="804.9" r="5"/><circle cx="1589.2" cy="789.6" r="5"/><circle cx="1601.2" cy="785.0" r="5"/><circle cx="1613.1" cy="807.8" r="5"/><circle cx="1619.1" cy="786.4" r="5"/><circle cx="1625.1" cy="823.7" r="5"/><circle cx="1643.0" cy="813.8" r="5"/><circle cx="1678.9" cy="827.3" r="5"/><circle cx="1732.7" cy="775.0" r="5"/><circle cx="1768.5" cy="774.2" r="5"/><circle cx="1834.3" cy="754.4" r="5"/><circle cx="1846.2" cy="722.2" r="5"/><circle cx="1864.2" cy="758.7" r="5"/><circle cx="1870.1" cy="693.6" r="5"/><circle cx="1726.7" cy="849.2" r="5"/><circle cx="1738.6" cy="863.5" r="5"/><circle cx="1744.6" cy="793.9" r="5"/><circle cx="1750.6" cy="847.6" r="5"/><circle cx="1756.6" cy="830.3" r="5"/><circle cx="1774.5" cy="829.3" r="5"/><circle cx="1786.5" cy="807.8" r="5"/><circle cx="1792.4" cy="797.3" r="5"/><circle cx="1798.4" cy="838.6" r="5"/><circle cx="1804.4" cy="814.8" r="5"/><circle cx="1810.4" cy="903.2" r="5"/><circle cx="1816.3" cy="889.9" r="5"/><circle cx="1822.3" cy="802.5" r="5"/><circle cx="1828.3" cy="852.0" r="5"/><circle cx="1840.2" cy="931.4" r="5"/><circle cx="1852.2" cy="877.0" r="5"/><circle cx="1858.2" cy="821.3" r="5"/><circle cx="1876.1" cy="832.7" r="5"/><circle cx="1882.1" cy="819.2" r="5"/><circle cx="1894.0" cy="965.8" r="5"/><circle cx="1900.0" cy="798.3" r="5"/><circle cx="1912.0" cy="845.6" r="5"/><circle cx="1917.9" cy="907.6" r="5"/><circle cx="1923.9" cy="808.4" r="5"/><circle cx="1929.9" cy="916.1" r="5"/><circle cx="1941.9" cy="881.4" r="5"/></g><line x1="1415.9" y1="701.6" x2="1941.9" y2="866.5" stroke="#666666" stroke-width="12" stroke-linecap="round"/><line x1="1415.9" y1="701.6" x2="1941.9" y2="866.0" stroke="#1a1a1a" stroke-width="13" stroke-linecap="round"/><line x1="1415.9" y1="701.5" x2="1941.9" y2="862.9" stroke="#69bb47" stroke-width="14" stroke-linecap="round"/></g>
<text x="1712.8" y="539.0" font-size="46" text-anchor="middle">RIL</text>
<text x="1417.1" y="1044" font-size="44" text-anchor="middle">0</text>
<text x="1610.4" y="1044" font-size="44" text-anchor="middle">30</text>
<text x="1789.7" y="1044" font-size="44" text-anchor="middle">60</text>
<text x="1971.0" y="1044" font-size="44" text-anchor="middle">90</text>
<text x="1714.2" y="1097" font-size="45" text-anchor="middle">time (s)</text>
</g></svg></div></body></html>
